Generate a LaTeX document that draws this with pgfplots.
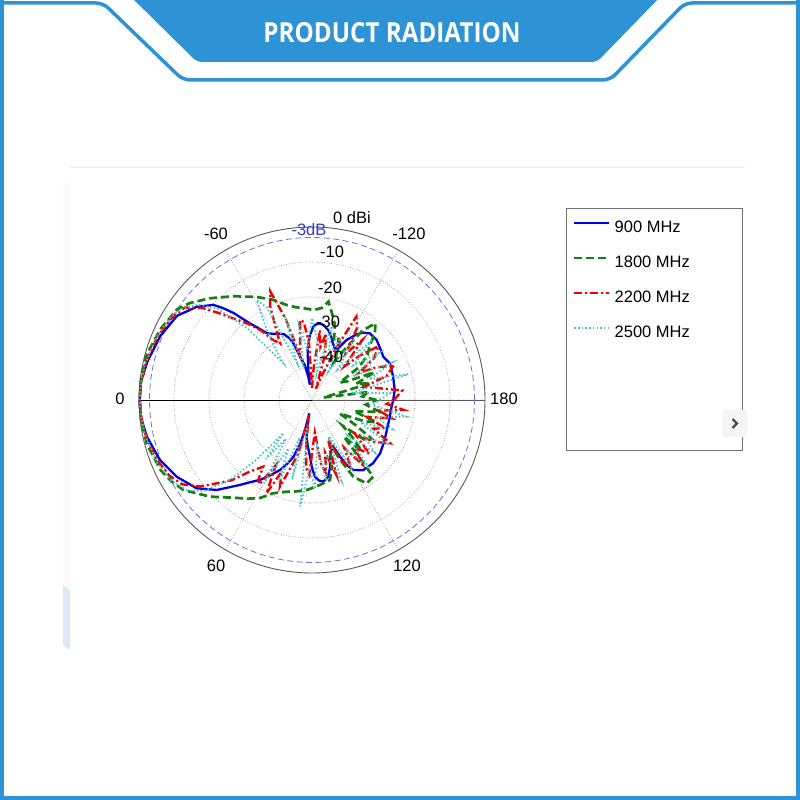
\documentclass[border=0pt]{standalone}
\usepackage{pgfplots}
\pgfplotsset{compat=1.18}
\usepgfplotslibrary{polar}
\usepackage{pgfplotstable}
\usepackage{graphicx}
\usepackage{fontspec}
\setmainfont{Liberation Sans}
\newfontfamily\bannerfont{Open Sans}
\definecolor{frameblue}{RGB}{46,147,212}
\definecolor{cnine}{RGB}{0,0,225}
\definecolor{ceighteen}{RGB}{20,128,20}
\definecolor{ctwentytwo}{RGB}{240,0,0}
\definecolor{ctwentyfive}{RGB}{70,195,200}
\definecolor{dbblue}{RGB}{110,110,225}
\definecolor{dbtext}{RGB}{60,60,190}
\definecolor{sidebar}{RGB}{222,232,244}

\pgfplotstableread{
t d
-180 -26.2
-173 -25.6
-164 -25.3
-155 -24.8
-149 -25.6
-143 -25.0
-137 -24.2
-131 -24.2
-127 -25.3
-124 -26.9
-120 -29.6
-116 -33.5
-113 -33.0
-110 -32.1
-106 -30.0
-103 -28.9
-99 -27.8
-96 -27.4
-93 -27.8
-91 -28.5
-88 -31.0
-85 -35.1
-83 -40.5
-82 -45.0
-81 -42.7
-78 -39.0
-74.5 -36.6
-72 -32.5
-70 -30.7
-67 -29.0
-64 -28.3
-60 -27.6
-56 -26.4
-53 -23.5
-51 -21.3
-48 -16.0
-46 -13.0
-44 -10.3
-39 -7.1
-32 -4.0
-23 -2.4
-13 -1.1
-6 -0.3
0 -0.2
6 -0.3
12.5 -1.1
21.5 -2.7
29.6 -5.0
37.4 -7.9
43.4 -12.0
49.7 -17.6
53 -20.0
57 -22.2
61 -24.8
65.4 -27.4
69 -30.0
72 -32.4
75 -36.6
77 -41.0
78.5 -45.5
80 -40.7
82 -38.5
85 -36.0
88 -33.2
90 -30.0
92.2 -27.5
95 -26.3
98 -25.9
102 -27.0
105 -29.5
108 -32.4
111 -34.0
114.5 -34.8
116.3 -31.4
118 -28.5
120.5 -26.2
126 -24.6
134 -24.3
142 -24.7
151 -25.7
157 -26.3
163 -26.6
170 -26.7
175 -26.6
180 -26.2
}\tnine

\pgfplotstableread{
t d
-180 -31
-176 -35
-172 -33
-168 -46
-164 -32
-160 -36
-156 -30
-152 -38
-148 -40
-145 -33
-141 -29
-137 -26.9
-133 -23
-129.5 -21
-126 -25
-123 -32
-120 -37
-117 -33
-113 -30
-110 -31
-107 -27
-103 -24
-99.5 -20.9
-96 -23
-91 -23.7
-85 -23.1
-80 -22.5
-75 -21.3
-69 -18.8
-62 -16.1
-53 -12.3
-45 -8.3
-38.5 -4.9
-34 -3.0
-25 -1.6
-15 -0.4
-7 -0.2
0 -0.2
7 -0.3
15 -0.6
25 -1.8
30 -3.0
35 -4.6
43.5 -9.3
51 -13.5
57 -15.8
62 -17.7
67.5 -20.6
75 -22.3
81 -23.0
87 -23.7
95 -25.0
102.7 -26.0
106 -29
109 -33
112.6 -36.0
115 -31
118.3 -24.5
123.3 -20.9
128.6 -21.4
131 -35.6
134 -29
137 -33
140 -38
143 -30
147 -29
150 -35
154 -40.5
158 -33
161 -30
165 -37
170 -29.7
175 -34
180 -31
}\teighteen

\pgfplotstableread{
t d
-180 -26
-174 -23.5
-170 -30
-166 -34
-162 -27
-157 -24
-153 -29
-150 -34
-146 -28
-141 -25
-137 -31
-134 -36
-130 -27
-126 -33
-122 -25
-118 -22.4
-115 -33
-112 -42
-109 -46
-106 -36
-102 -30
-99 -34
-96.5 -29.3
-93 -40
-90 -46
-87 -33
-84 -27
-81.5 -26.3
-78 -33
-75 -36
-72 -25
-69 -16.2
-66 -20
-63 -27
-60.6 -30.9
-57 -29
-54 -25
-50 -21
-46 -17
-43 -13
-40 -8.5
-36 -4.5
-30 -2.9
-22 -1.7
-13 -0.8
-5 -0.3
0 -0.2
5 -0.3
13 -0.9
21 -1.9
28 -3.3
33 -5.2
37.7 -9.0
41.2 -13.3
45 -17
49 -22.3
53.8 -25.8
56 -22
58 -21
61 -28
64 -19.8
67 -27
69.7 -23
73 -30
76 -34
79 -45
82 -38
85 -30
88 -28
91 -36
95 -40
98 -31
101 -28
104 -34
108 -27
112 -37
116 -30
120 -27
124 -33
128 -26
132 -31
137 -27
142 -34
146 -28
151 -23.9
155 -30
159 -27
163 -33
167 -26
171 -30
173.8 -23.1
177 -28
180 -26
}\ttwentytwo

\pgfplotstableread{
t d
-180 -30
-175 -27
-170 -38
-165 -21
-160 -32
-155 -24
-150 -36
-145 -26
-140 -34
-135 -25
-130 -38
-125 -28
-120 -40
-115 -30
-110 -36
-105 -27
-100 -42
-95 -32
-90 -26
-85 -35
-80 -28
-76 -40
-72 -24
-68 -38
-64 -20
-61 -16.8
-58 -24
-55 -30
-52 -36.1
-48 -22
-44 -12
-40 -7
-35 -4
-30 -2.5
-22 -1.5
-12 -0.6
-5 -0.3
0 -0.2
5 -0.3
12 -0.7
22 -1.7
30 -3.0
36 -5.5
40 -9
44.3 -16.7
47 -26
49.3 -36.9
52 -28
56 -36
60 -22
64 -34
68 -24
72 -38
76 -26
80 -42
83.6 -18.8
88 -30
92 -24
96 -36
100 -26
105 -33
110 -25
115 -38
120 -27
125 -32
130 -24
135 -35
140 -26
145 -31
150 -24
155 -34
160 -25
165 -30
170 -22
175 -32
180 -30
}\ttwentyfive

\begin{document}
\begin{tikzpicture}
\useasboundingbox (0pt,0pt) rectangle (800pt,800pt);
\fill[white] (0pt,0pt) rectangle (800pt,800pt);
\begin{scope}[x=1pt,y=1pt]
  % chart panel decorations
  \draw[black!7, line width=1pt] (70,632) -- (745,632);
  \fill[blue!2] (63,617) rectangle (70,215);
  \fill[sidebar] (63,215) -- (70,210) -- (70,150) -- (63,155) -- cycle;
  % banner
  \fill[frameblue, rounded corners=5pt] (128,806) -- (663,806) -- (597,738) -- (197,738) -- cycle;
  \node[text=white, inner sep=0pt] at (392,767) {\resizebox{257pt}{20pt}{\bannerfont\bfseries PRODUCT RADIATION}};
  % frame
  \draw[frameblue, line width=3.5pt, rounded corners=7pt] (-5,797) -- (103,797) -- (183,720) -- (610,720) -- (685,797) -- (805,797);
  \draw[frameblue, line width=4pt] (2,802) -- (2,2) -- (798,2) -- (798,802);
  % legend box
  \draw[black!55, line width=1pt] (566,591) rectangle (742,349);
\end{scope}

\begin{polaraxis}[
  at={(312pt,400pt)}, anchor=center,
  scale only axis, width=346pt, height=346pt,
  xmin=0, xmax=360, ymin=0, ymax=49.4,
  xtick={0,60,120,240,300}, xticklabels={},
  extra x ticks={180}, extra x tick labels={},
  extra x tick style={major grid style={black, solid, line width=0.7pt}},
  ytick={9.4,19.4,29.4,39.4}, yticklabels={},
  extra y ticks={46.4}, extra y tick labels={},
  extra y tick style={major grid style={dbblue, dash pattern=on 6pt off 3.5pt, line width=0.8pt}},
  grid=major,
  major grid style={black!55, dotted, line width=0.8pt},
  axis line style={black!65, line width=0.9pt},
  major tick length=0pt,
  clip=false,
  legend cell align=left,
  legend image code/.code={\draw[#1] (0pt,4.5pt) -- (35pt,4.5pt);},
  legend style={at={(1.2543,1.0202)}, anchor=north west, draw=none, fill=none,
    inner sep=0pt, outer sep=0pt, font=\fontsize{16.5}{18}\selectfont,
    row sep=20pt, nodes={inner sep=0pt, text height=12pt, text depth=3pt},
    /tikz/every odd column/.append style={column sep=4pt}},
]
\addplot[cnine, line width=2.3pt] table[x expr=\thisrow{t}+180, y expr=\thisrow{d}+49.4] {\tnine};
\addlegendentry{900 MHz}
\addplot[ceighteen, line width=2.7pt, dash pattern=on 8pt off 4pt] table[x expr=\thisrow{t}+180, y expr=\thisrow{d}+49.4] {\teighteen};
\addlegendentry{1800 MHz}
\addplot[ctwentytwo, line width=2.4pt, dash pattern=on 8pt off 3pt on 2pt off 3pt] table[x expr=\thisrow{t}+180, y expr=\thisrow{d}+49.4] {\ttwentytwo};
\addlegendentry{2200 MHz}
\addplot[ctwentyfive, line width=1.8pt, dash pattern=on 1.5pt off 2.2pt] table[x expr=\thisrow{t}+180, y expr=\thisrow{d}+49.4] {\ttwentyfive};
\addlegendentry{2500 MHz}
\end{polaraxis}

\begin{scope}[x=1pt,y=1pt, every node/.style={font=\fontsize{16.5}{18}\selectfont, inner sep=0pt}]
  \node at (120,401) {0};
  \node at (504,401) {180};
  \node at (216,566) {-60};
  \node at (409,566) {-120};
  \node at (216,234) {60};
  \node at (407,234) {120};
  \node[anchor=west] at (333,582) {0 dBi};
  \node[text=dbtext] at (309,570) {-3dB};
  \node[anchor=west] at (320,548) {-10};
  \node[anchor=west] at (318,512) {-20};
  \node[anchor=west] at (316,478) {-30};
  \node[anchor=west] at (319,443) {-40};
  % slider button
  \fill[black!4, rounded corners=3pt] (722,390) rectangle (747,363);
  \draw[black!70, line width=2.2pt] (732.5,381) -- (737,376.5) -- (732.5,372);
\end{scope}
\end{tikzpicture}
\end{document}
